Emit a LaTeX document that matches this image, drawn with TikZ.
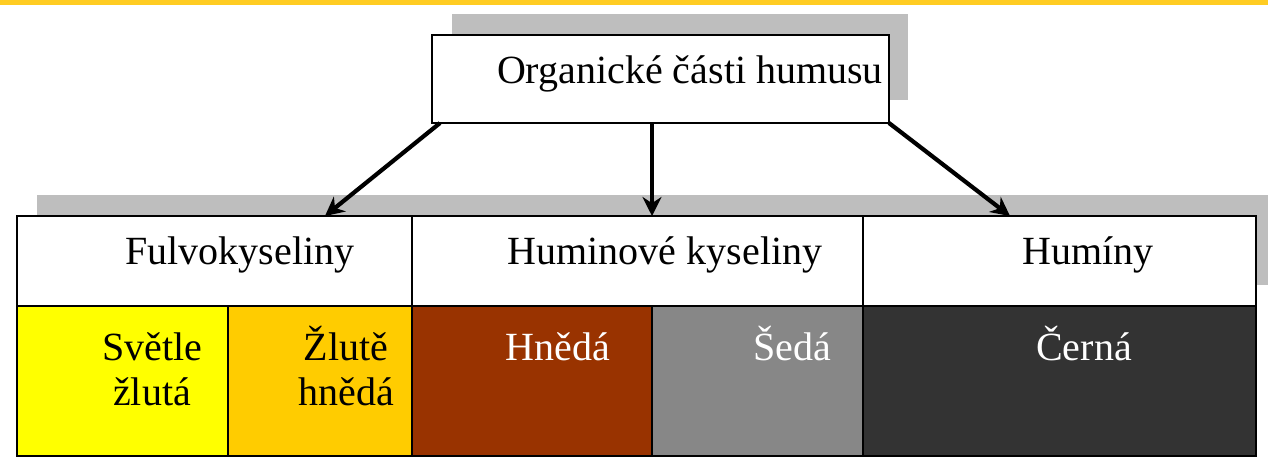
\documentclass[tikz,border=0pt]{standalone}
\usepackage{fontspec}
\setmainfont{Liberation Serif}
\usetikzlibrary{arrows.meta}
\definecolor{topbar}{HTML}{FFCC22}
\definecolor{shadowgray}{HTML}{BEBEBE}
\definecolor{cyellow}{HTML}{FFFF00}
\definecolor{corange}{HTML}{FFCC00}
\definecolor{cbrown}{HTML}{993300}
\definecolor{cgray}{HTML}{878787}
\definecolor{cdark}{HTML}{333333}
\begin{document}
\begin{tikzpicture}[x=1pt,y=-1pt,
  cell/.style={draw=black,line width=1.3pt,anchor=north west,inner sep=0pt,outer sep=0pt},
  txt/.style={anchor=base,inner sep=0pt,font=\fontsize{40}{38}\selectfont},
  wtxt/.style={txt,text=white},
  conn/.style={line width=4.2pt,-{Stealth[length=19pt,width=19pt]}},
  shadow/.style={fill=shadowgray,draw=none}]
\useasboundingbox (0,0) rectangle (1268,458);
\fill[white] (0,0) rectangle (1268,458);
\fill[topbar] (0,0) rectangle (1268,4.5);
% shadows
\fill[shadow] (452,14) rectangle (908,100);
\fill[shadow] (37,195) rectangle (1268,285);
% top box
\node[cell,fill=white,line width=2pt,minimum width=457pt,minimum height=88pt] (top) at (432,35) {};
\node[txt] (toptxt) at (690,83) {Organické části humusu};
% header row
\node[cell,fill=white,minimum width=395pt,minimum height=90pt] (fulvo) at (17,216) {};
\node[cell,fill=white,minimum width=451pt,minimum height=90pt] (humin) at (412,216) {};
\node[cell,fill=white,minimum width=393pt,minimum height=90pt] (humy) at (863,216) {};
\node[txt] (fulvotxt) at (240,264) {Fulvokyseliny};
\node[txt] (humintxt) at (665,264) {Huminové kyseliny};
\node[txt] (humytxt) at (1088,264) {Humíny};
% colour row
\node[cell,fill=cyellow,minimum width=211pt,minimum height=150pt] (yel) at (17,306) {};
\node[cell,fill=corange,minimum width=184pt,minimum height=150pt] (ora) at (228,306) {};
\node[cell,fill=cbrown,minimum width=240pt,minimum height=150pt] (bro) at (412,306) {};
\node[cell,fill=cgray,minimum width=211pt,minimum height=150pt] (gra) at (652,306) {};
\node[cell,fill=cdark,minimum width=393pt,minimum height=150pt] (dar) at (863,306) {};
\node[txt] (yeltxt) at (152,360) {\begin{tabular}[t]{@{}c@{}}Světle\\[6pt]žlutá\end{tabular}};
\node[txt] (oratxt) at (346,360) {\begin{tabular}[t]{@{}c@{}}Žlutě\\[6pt]hnědá\end{tabular}};
\node[wtxt] (brotxt) at (558,360) {Hnědá};
\node[wtxt] (gratxt) at (792,360) {Šedá};
\node[wtxt] (dartxt) at (1084,360) {Černá};
% connectors
\coordinate (s1) at ([xshift=8pt]top.south west);
\coordinate (s3) at (top.south east);
\draw[conn] (s1) -- (fulvo.north west -| 325,0);
\draw[conn] (top.south -| 652,0) -- (humin.north -| 652,0);
\draw[conn] (s3) -- (humy.north west -| 1010,0);
\end{tikzpicture}
\end{document}
